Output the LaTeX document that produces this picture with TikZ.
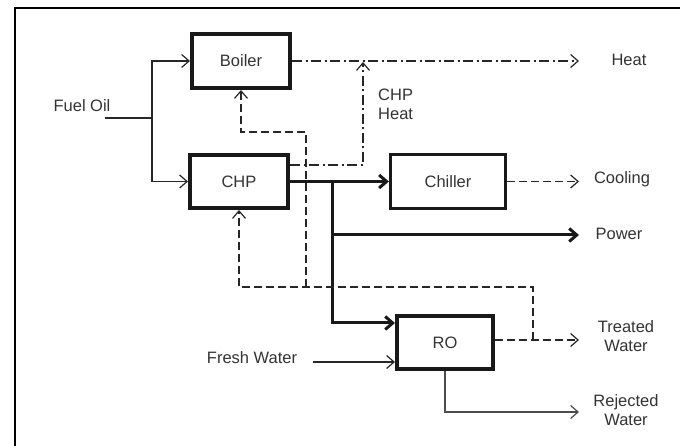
\documentclass[tikz,border=0pt]{standalone}
\usepackage{fontspec}
\setmainfont{Liberation Sans}
\usetikzlibrary{arrows.meta}
\tikzset{
  box/.style={draw=black!90, line width=4pt, inner sep=0pt, font=\fontsize{16.5}{19}\selectfont, text=black!80},
  lbl/.style={inner sep=0pt, font=\fontsize{16.5}{19}\selectfont, text=black!80},
  fl/.style={line width=1.2pt, draw=black!85},
  bl/.style={line width=3pt, draw=black!90},
  dsh/.style={fl, dash pattern=on 8pt off 4pt},
  dd/.style={fl, dash pattern=on 10pt off 3.5pt on 2pt off 3.5pt},
  tip/.style={-{Straight Barb[length=7.5pt,width=13pt,line width=1.2pt]}},
  tipk/.style={-{Straight Barb[length=7.5pt,width=13pt,line width=3pt]}},
}
\begin{document}
\begin{tikzpicture}[x=1pt,y=-1pt]
\useasboundingbox (0,0) rectangle (680,446);
\draw[line width=1.8pt] (15,446) -- (15,8) -- (680,8);

% boxes
\node[box, minimum width=98pt, minimum height=54pt] (boiler) at (241,61) {Boiler};
\node[box, minimum width=98pt, minimum height=53pt] (chp) at (239,181.5) {CHP};
\node[box, line width=3.2pt, minimum width=115pt, minimum height=54pt] (chiller) at (448,181.5) {Chiller};
\node[box, minimum width=96pt, minimum height=53pt] (ro) at (445,342.5) {RO};

% labels
\node[lbl] (fuel) at (82,106) {Fuel Oil};
\node[lbl] (heat) at (629,60) {Heat};
\node[lbl, align=left, anchor=west] (chpheat) at (378,104) {CHP\\Heat};
\node[lbl] (cooling) at (622,179) {Cooling};
\node[lbl] (power) at (619,234) {Power};
\node[lbl, align=center] (treated) at (626,336) {Treated\\Water};
\node[lbl, align=center] (rejected) at (626,410) {Rejected\\Water};
\node[lbl] (fresh) at (252,358) {Fresh Water};

% coordinates
\coordinate (f0) at (105,118);
\coordinate (f1) at (152,118);
\coordinate (hend) at (579,61);
\coordinate (ch1) at (363,165);
\coordinate (ch2) at (363,62);
\coordinate (j) at (332,181.5);
\coordinate (p0) at (332,235);
\coordinate (pend) at (579,235);
\coordinate (jr) at (332,323);
\coordinate (fw0) at (313,362);
\coordinate (cend) at (579,181.5);
\coordinate (tend) at (579,340);
\coordinate (t1) at (533,340);
\coordinate (t2) at (533,287);
\coordinate (t3) at (306,287);
\coordinate (t4) at (306,132);
\coordinate (rend) at (579,412);

% fuel oil
\draw[fl] (f0) -- (f1);
\draw[fl, tip] (f1) |- (boiler.west);
\draw[fl, tip] (f1) |- (chp.west);

% heat
\draw[dd, tip] (boiler.east) -- (hend);
\draw[dd, tip] (chp.east |- ch1) -- (ch1) -- (ch2);

% power lines
\draw[bl, tipk] (chp.east) -- (chiller.west);
\draw[bl, tipk] (j) |- (ro.west |- jr);
\draw[bl, tipk] (p0) -- (pend);

% chiller output
\draw[dsh, tip] (chiller.east) -- (cend);

% fresh water
\draw[fl, tip] (fw0) -- (ro.west |- fw0);

% treated water
\draw[dsh, tip] (ro.east |- tend) -- (tend);
\draw[dsh, tip] (t1) -- (t2) -| (chp.south);
\draw[dsh, tip] (t3) -- (t4) -| (boiler.south);

% rejected
\draw[fl, draw=black!70, tip] (ro.south) |- (rend);
\end{tikzpicture}
\end{document}
